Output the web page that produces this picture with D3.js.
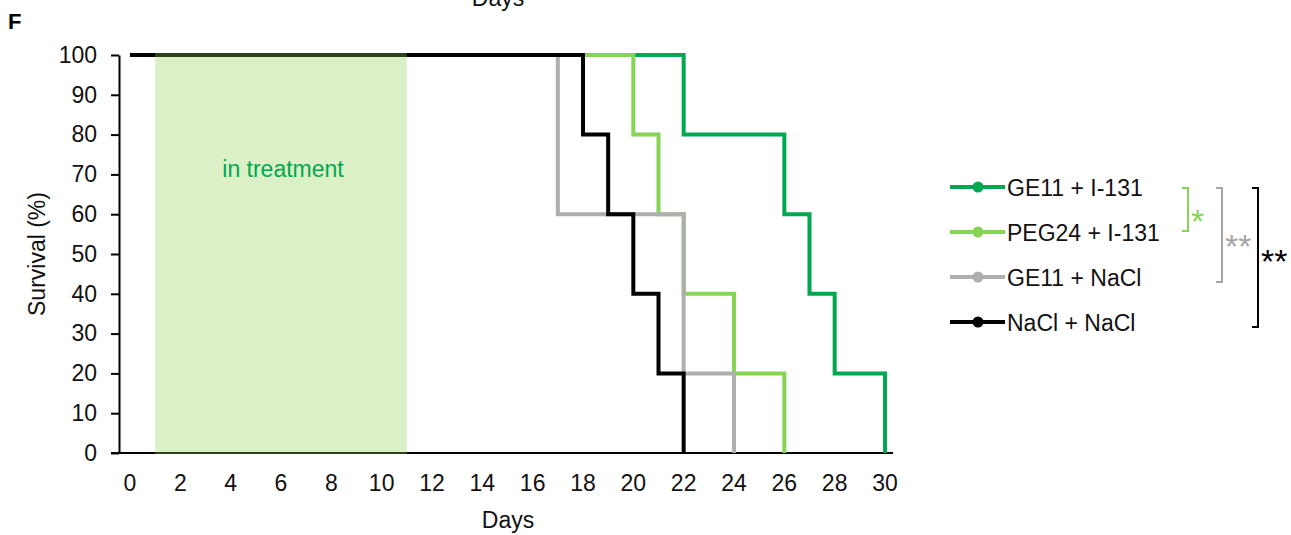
<!DOCTYPE html>
<html lang="en">
<head>
  <meta charset="UTF-8">
  <script src="https://cdn.jsdelivr.net/npm/d3@7/dist/d3.min.js"></script>
  <style>
    body { margin: 0; background: #fff; }
    text { font-family: Arial, "Liberation Sans", sans-serif; }
  </style>
</head>
<body>
<svg></svg>
<script>
// survival data (Kaplan-Meier steps), day of event and % surviving after it
var groups = ["GE11 + I-131", "PEG24 + I-131", "GE11 + NaCl", "NaCl + NaCl"];
var colors = ["#00a84f", "#86d455", "#aeaeae", "#000000"];
var daysGE11I131 = [0, 22, 26, 27, 28, 30];
var survGE11I131 = [100, 80, 60, 40, 20, 0];
var daysPEG24I131 = [0, 20, 21, 22, 24, 26];
var survPEG24I131 = [100, 80, 60, 40, 20, 0];
var daysGE11NaCl = [0, 17, 22, 24];
var survGE11NaCl = [100, 60, 20, 0];
var daysNaClNaCl = [0, 18, 19, 20, 21, 22];
var survNaClNaCl = [100, 80, 60, 40, 20, 0];
var xTicks = d3.range(0, 31, 2);
var yTicks = d3.range(0, 101, 10);
var treatment = [1, 11];
// significance brackets: [from group, to group, label, colour]
var brackets = [[0, 1, "*", "#86d455"], [0, 2, "**", "#a6a6a6"], [0, 3, "**", "#000000"]];

var series = [
  {days: daysGE11I131, surv: survGE11I131},
  {days: daysPEG24I131, surv: survPEG24I131},
  {days: daysGE11NaCl, surv: survGE11NaCl},
  {days: daysNaClNaCl, surv: survNaClNaCl}
];

var W = 1291, H = 535;
var svg = d3.select("svg").attr("width", W).attr("height", H);

var x = d3.scaleLinear().domain([0, 30]).range([130, 885]);
var y = d3.scaleLinear().domain([0, 100]).range([453, 55]);
var axisX = 119;
var ink = "#111";

// panel letter and cut-off label from the panel above
svg.append("text").attr("x", 8).attr("y", 29)
  .style("font-size", "22px").style("font-weight", "bold").text("F");
svg.append("text").attr("x", 498).attr("y", 6).attr("text-anchor", "middle")
  .attr("fill", ink).style("font-size", "23px").text("Days");

// y axis
var yAxis = svg.append("g").attr("transform", "translate(" + axisX + ",0)")
  .call(d3.axisLeft(y).tickValues(yTicks).tickSize(8).tickSizeOuter(0).tickPadding(14));
yAxis.select(".domain").attr("stroke", "#000").attr("stroke-width", 2);
yAxis.selectAll(".tick line").attr("stroke", "#000").attr("stroke-width", 2);
yAxis.selectAll(".tick text").attr("fill", ink)
  .style("font-size", "23px").style("font-family", "Arial, 'Liberation Sans', sans-serif");

// x axis (labels only, line from the y-axis tick to the end)
svg.append("line").attr("x1", axisX - 8).attr("x2", x(30) + 8)
  .attr("y1", y(0)).attr("y2", y(0)).attr("stroke", "#000").attr("stroke-width", 2);
svg.append("g").selectAll("text").data(xTicks).enter().append("text")
  .attr("x", function(d) { return x(d); }).attr("y", 491)
  .attr("text-anchor", "middle").attr("fill", ink)
  .style("font-size", "23px").text(function(d) { return d; });

svg.append("text").attr("x", 508).attr("y", 528).attr("text-anchor", "middle")
  .attr("fill", ink).style("font-size", "23px").text("Days");
svg.append("text").attr("transform", "translate(45," + y(50) + ") rotate(-90)")
  .attr("text-anchor", "middle").attr("fill", ink).style("font-size", "23px")
  .text("Survival (%)");

// survival curves, GE11 + I-131 at the bottom, NaCl + NaCl on top
var line = d3.line().curve(d3.curveStepAfter)
  .x(function(d) { return x(d[0]); }).y(function(d) { return y(d[1]); });
series.forEach(function(s, i) {
  svg.append("path").datum(d3.zip(s.days, s.surv)).attr("d", line)
    .attr("fill", "none").attr("stroke", colors[i])
    .attr("stroke-width", 4).attr("stroke-linecap", "butt");
});

// treatment window, translucent on top of the lines
svg.append("rect")
  .attr("x", x(treatment[0])).attr("width", x(treatment[1]) - x(treatment[0]))
  .attr("y", y(100) - 2).attr("height", y(0) - y(100) + 3)
  .attr("fill", "#92d050").attr("fill-opacity", 0.32);
svg.append("text").attr("x", 283).attr("y", 177).attr("text-anchor", "middle")
  .attr("fill", "#00a84f").style("font-size", "23px").text("in treatment");

// legend
var ly = d3.scaleLinear().domain([0, 3]).range([187, 322]);
var leg = svg.append("g").selectAll("g").data(groups).enter().append("g")
  .attr("transform", function(d, i) { return "translate(950," + ly(i) + ")"; });
leg.append("line").attr("x1", 0).attr("x2", 55)
  .attr("stroke", function(d, i) { return colors[i]; }).attr("stroke-width", 4);
leg.append("circle").attr("cx", 28).attr("r", 5.5)
  .attr("fill", function(d, i) { return colors[i]; });
leg.append("text").attr("x", 57).attr("y", 8.5).attr("fill", ink)
  .style("font-size", "23px").text(function(d) { return d; });

// significance brackets
var bx = [1188, 1222, 1258];
var starY = [233, 258, 273];
var bt = svg.append("g");
brackets.forEach(function(b, k) {
  var y0 = ly(b[0]) + 1, y1 = ly(b[1]) + (k === 0 ? -1 : 5);
  bt.append("path")
    .attr("d", "M" + (bx[k] - 6) + "," + y0 + "H" + bx[k] + "V" + y1 + "H" + (bx[k] - 6))
    .attr("fill", "none").attr("stroke", b[3]).attr("stroke-width", 2);
  bt.append("text").attr("x", bx[k] + 3).attr("y", starY[k])
    .attr("fill", b[3]).style("font-size", "34px").text(b[2]);
});
</script>
</body>
</html>
